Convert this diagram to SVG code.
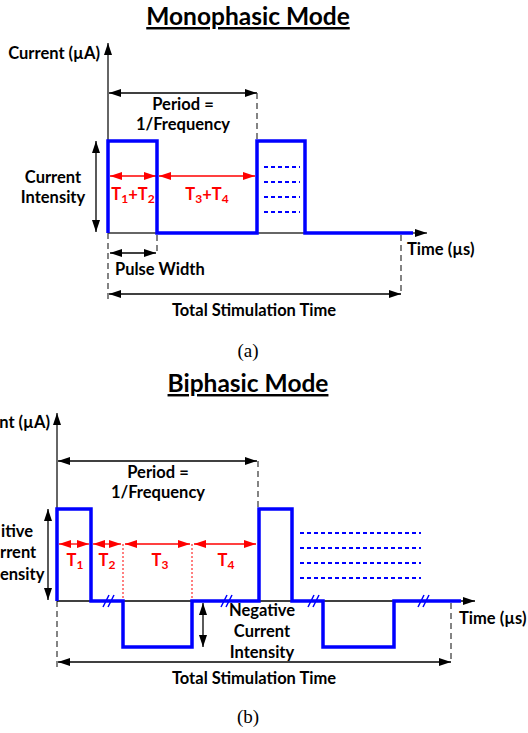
<svg xmlns="http://www.w3.org/2000/svg" width="528" height="733" viewBox="0 0 528 733">
<style>
.t{font-family:Lato,"Open Sans","Liberation Sans",sans-serif;font-weight:bold;font-size:16.5px;fill:#000}
.r{fill:#f00}
.s{font-size:12px}
.ttl{font-family:Lato,"Open Sans","Liberation Sans",sans-serif;font-weight:bold;font-size:24.5px;fill:#000;text-decoration:underline}
.cap{font-family:"Liberation Serif",serif;font-size:19px;fill:#000}
.ax{stroke:#333;stroke-width:1.5;fill:none}
.dash{stroke:#333;stroke-width:1.2;stroke-dasharray:6 4;fill:none}
.dim{stroke:#000;stroke-width:1.3;fill:none}
.red{stroke:#f00;stroke-width:1.3;fill:none}
.wave{stroke:#00f;stroke-width:3.5;fill:none;stroke-linejoin:miter}
.dot{stroke:#00f;stroke-width:2.2;stroke-dasharray:4 3;fill:none}
.rdot{stroke:#f00;stroke-width:1;stroke-dasharray:2 2;fill:none}
.brk{stroke:#00f;stroke-width:1.5;fill:none}
</style>
<defs>
<marker id="ab" viewBox="0 0 12 8" refX="12" refY="4" markerWidth="12" markerHeight="8" markerUnits="userSpaceOnUse" orient="auto-start-reverse"><path d="M0,0 L12,4 L0,8 Z" fill="#000"/></marker>
<marker id="ar" viewBox="0 0 12 8" refX="12" refY="4" markerWidth="12" markerHeight="8" markerUnits="userSpaceOnUse" orient="auto-start-reverse"><path d="M0,0 L12,4 L0,8 Z" fill="#f00"/></marker>
</defs>

<g id="mono-title"><text class="ttl" x="248" y="25" text-anchor="middle">Monophasic Mode</text></g>

<g id="mono-connectors">
<line class="ax" x1="108" y1="233" x2="108" y2="43" marker-end="url(#ab)"/>
<line class="dash" x1="108" y1="233" x2="108" y2="300"/>
<line class="ax" x1="108" y1="233" x2="427" y2="233" marker-end="url(#ab)"/>
<line class="dim" x1="109" y1="93" x2="257" y2="93" marker-start="url(#ab)" marker-end="url(#ab)"/>
<line class="dash" x1="257" y1="93" x2="257" y2="140"/>
<line class="dim" x1="96" y1="141" x2="96" y2="232" marker-start="url(#ab)" marker-end="url(#ab)"/>
<line class="red" x1="110" y1="176" x2="156" y2="176" marker-start="url(#ar)" marker-end="url(#ar)"/>
<line class="red" x1="159" y1="176" x2="255" y2="176" marker-start="url(#ar)" marker-end="url(#ar)"/>
<line class="dim" x1="110" y1="253" x2="156" y2="253" marker-start="url(#ab)" marker-end="url(#ab)"/>
<line class="dash" x1="157" y1="235" x2="157" y2="253"/>
<line class="dim" x1="109" y1="294" x2="401" y2="294" marker-start="url(#ab)" marker-end="url(#ab)"/>
<line class="dash" x1="401" y1="235" x2="401" y2="294"/>
</g>

<g id="mono-wave">
<path class="wave" d="M108,233 V141 H157 V233 H257 V141 H305 V233 H413"/>
<line class="dot" x1="264" y1="167" x2="300" y2="167"/>
<line class="dot" x1="264" y1="182" x2="300" y2="182"/>
<line class="dot" x1="264" y1="197" x2="300" y2="197"/>
<line class="dot" x1="264" y1="212" x2="300" y2="212"/>
</g>

<g id="mono-labels">
<text class="t" x="100" y="59" text-anchor="end">Current (µA)</text>
<text class="t" x="183" y="110" text-anchor="middle">Period =</text>
<text class="t" x="183" y="130" text-anchor="middle">1/Frequency</text>
<text class="t" x="53" y="183" text-anchor="middle">Current</text>
<text class="t" x="53" y="203" text-anchor="middle">Intensity</text>
<text class="t r" x="133" y="200" text-anchor="middle">T<tspan class="s" dy="3">1</tspan><tspan dy="-3">+T</tspan><tspan class="s" dy="3">2</tspan></text>
<text class="t r" x="207" y="200" text-anchor="middle">T<tspan class="s" dy="3">3</tspan><tspan dy="-3">+T</tspan><tspan class="s" dy="3">4</tspan></text>
<text class="t" x="115" y="275">Pulse Width</text>
<text class="t" x="407" y="255">Time (µs)</text>
<text class="t" x="254" y="316" text-anchor="middle">Total Stimulation Time</text>
<text class="cap" x="248" y="357" text-anchor="middle">(a)</text>
</g>

<g id="bi-title"><text class="ttl" x="248" y="392" text-anchor="middle">Biphasic Mode</text></g>

<g id="bi-connectors">
<line class="ax" x1="57" y1="601" x2="57" y2="413" marker-end="url(#ab)"/>
<line class="dash" x1="57" y1="601" x2="57" y2="668"/>
<line x1="57" y1="601" x2="475" y2="601" stroke="#000" stroke-width="1.3" marker-end="url(#ab)"/>
<line class="dim" x1="58" y1="461" x2="257" y2="461" marker-start="url(#ab)" marker-end="url(#ab)"/>
<line class="dash" x1="258" y1="461" x2="258" y2="508"/>
<line class="dim" x1="48" y1="509" x2="48" y2="600" marker-start="url(#ab)" marker-end="url(#ab)"/>
<line class="dim" x1="203" y1="603" x2="203" y2="647" marker-start="url(#ab)" marker-end="url(#ab)"/>
<line class="red" x1="59" y1="544" x2="89" y2="544" marker-start="url(#ar)" marker-end="url(#ar)"/>
<line class="red" x1="93" y1="544" x2="121" y2="544" marker-start="url(#ar)" marker-end="url(#ar)"/>
<line class="red" x1="125" y1="544" x2="190" y2="544" marker-start="url(#ar)" marker-end="url(#ar)"/>
<line class="red" x1="194" y1="544" x2="256" y2="544" marker-start="url(#ar)" marker-end="url(#ar)"/>
<line class="rdot" x1="123" y1="544" x2="123" y2="601"/>
<line class="rdot" x1="192" y1="544" x2="192" y2="601"/>
<line class="dim" x1="58" y1="662" x2="451" y2="662" marker-start="url(#ab)" marker-end="url(#ab)"/>
<line class="dash" x1="451" y1="603" x2="451" y2="662"/>
</g>

<g id="bi-wave">
<path class="wave" d="M57,601 V509 H91 V601 H123 V647 H192 V601 H259 V509 H292 V601 H323 V647 H394 V601 H461"/>
<line class="dot" x1="300" y1="533" x2="421" y2="533"/>
<line class="dot" x1="300" y1="548" x2="421" y2="548"/>
<line class="dot" x1="300" y1="563" x2="421" y2="563"/>
<line class="dot" x1="300" y1="578" x2="421" y2="578"/>
<path class="brk" d="M103,607 L109,595 M108,607 L114,595"/>
<path class="brk" d="M221,607 L227,595 M226,607 L232,595"/>
<path class="brk" d="M308,607 L314,595 M313,607 L319,595"/>
<path class="brk" d="M418,607 L424,595 M423,607 L429,595"/>
</g>

<g id="bi-labels">
<text class="t" x="50" y="428" text-anchor="end">nt (µA)</text>
<text class="t" x="1" y="537">itive</text>
<text class="t" x="0" y="558" font-size="15.5">rrent</text>
<text class="t" x="0" y="580" font-size="15.5">ensity</text>
<text class="t" x="158" y="478" text-anchor="middle">Period =</text>
<text class="t" x="158" y="498" text-anchor="middle">1/Frequency</text>
<text class="t r" x="75" y="566" text-anchor="middle">T<tspan class="s" dy="3">1</tspan></text>
<text class="t r" x="107" y="566" text-anchor="middle">T<tspan class="s" dy="3">2</tspan></text>
<text class="t r" x="160" y="566" text-anchor="middle">T<tspan class="s" dy="3">3</tspan></text>
<text class="t r" x="226" y="566" text-anchor="middle">T<tspan class="s" dy="3">4</tspan></text>
<text class="t" x="262" y="616" text-anchor="middle">Negative</text>
<text class="t" x="262" y="637" text-anchor="middle">Current</text>
<text class="t" x="262" y="658" text-anchor="middle">Intensity</text>
<text class="t" x="459" y="624">Time (µs)</text>
<text class="t" x="254" y="684" text-anchor="middle">Total Stimulation Time</text>
<text class="cap" x="248" y="723" text-anchor="middle">(b)</text>
</g>
</svg>
